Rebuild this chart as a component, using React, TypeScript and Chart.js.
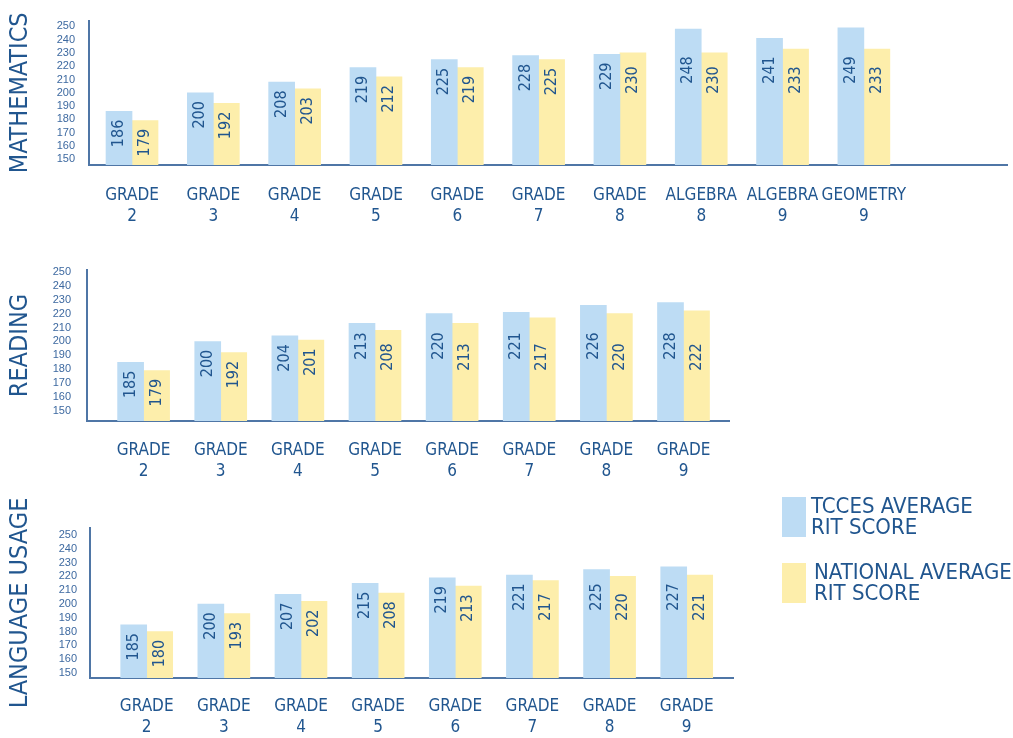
import React, { useEffect, useRef } from 'react';
import { Chart, registerables } from 'chart.js';

Chart.register(...registerables);

// ---------- data ----------
const mathCategories = [
  ['GRADE', '2'], ['GRADE', '3'], ['GRADE', '4'], ['GRADE', '5'], ['GRADE', '6'],
  ['GRADE', '7'], ['GRADE', '8'], ['ALGEBRA', '8'], ['ALGEBRA', '9'], ['GEOMETRY', '9'],
];
const mathTcces = [186, 200, 208, 219, 225, 228, 229, 248, 241, 249];
const mathNational = [179, 192, 203, 212, 219, 225, 230, 230, 233, 233];

const readingCategories = [
  ['GRADE', '2'], ['GRADE', '3'], ['GRADE', '4'], ['GRADE', '5'],
  ['GRADE', '6'], ['GRADE', '7'], ['GRADE', '8'], ['GRADE', '9'],
];
const readingTcces = [185, 200, 204, 213, 220, 221, 226, 228];
const readingNational = [179, 192, 201, 208, 213, 217, 220, 222];

const languageCategories = [
  ['GRADE', '2'], ['GRADE', '3'], ['GRADE', '4'], ['GRADE', '5'],
  ['GRADE', '6'], ['GRADE', '7'], ['GRADE', '8'], ['GRADE', '9'],
];
const languageTcces = [185, 200, 207, 215, 219, 221, 225, 227];
const languageNational = [180, 193, 202, 208, 213, 217, 220, 221];

const yTickValues = [150, 160, 170, 180, 190, 200, 210, 220, 230, 240, 250];
const seriesNames = [['TCCES AVERAGE', 'RIT SCORE'], ['NATIONAL AVERAGE', 'RIT SCORE']];

// ---------- styles ----------
const BLUE = '#bddcf4';
const YELLOW = '#fdeeab';
const TEXT = '#21568f';
const TICK = '#3d69a0';
const AXIS = '#4f76a6';
const NARROW = "'DejaVu Sans Condensed', 'Liberation Sans Narrow', sans-serif";
const REGULAR = "'Liberation Sans', Arial, sans-serif";

type Panel = {
  title: string;
  categories: string[][];
  tcces: number[];
  national: number[];
  top: number;
  height: number;
  padTop: number;
  padRight: number;
  yWidth: number;
  xHeight: number;
  xPad: number;
  xMin: number;
  xMax: number;
  yMin: number;
  yMax: number;
  yPad: number;
  labelOff: number[];
};

const panels: Panel[] = [
  {
    title: 'MATHEMATICS', categories: mathCategories, tcces: mathTcces, national: mathNational,
    top: 0, height: 235, padTop: 15, padRight: 6, yWidth: 89, xHeight: 70, xPad: 20,
    xMin: -0.529, xMax: 10.76, yMin: 145.65, yMax: 254.35, yPad: 14, labelOff: [95, 85],
  },
  {
    title: 'READING', categories: readingCategories, tcces: readingTcces, national: readingNational,
    top: 240, height: 250, padTop: 30, padRight: 284, yWidth: 87, xHeight: 69, xPad: 19,
    xMin: -0.734, xMax: 7.59, yMin: 142.8, yMax: 251.4, yPad: 16, labelOff: [75, 64],
  },
  {
    title: 'LANGUAGE USAGE', categories: languageCategories, tcces: languageTcces, national: languageNational,
    top: 490, height: 248, padTop: 38, padRight: 280, yWidth: 90, xHeight: 60, xPad: 18,
    xMin: -0.735, xMax: 7.6, yMin: 146.4, yMax: 255.1, yPad: 13, labelOff: [81, 71],
  },
];

function makeLabelPlugin(p: Panel) {
  return {
    id: 'barValueLabels',
    afterDatasetsDraw(chart: any) {
      const ctx: CanvasRenderingContext2D = chart.ctx;
      const series = [p.tcces, p.national];
      const bottom = chart.chartArea.bottom;
      ctx.save();
      ctx.fillStyle = TEXT;
      ctx.font = '16px "DejaVu Sans Condensed", sans-serif';
      ctx.textAlign = 'center';
      ctx.textBaseline = 'middle';
      for (let di = 0; di < series.length; di++) {
        const meta = chart.getDatasetMeta(di);
        const els = meta && meta.data ? meta.data : [];
        for (let i = 0; i < els.length; i++) {
          const props = els[i].getProps(['x', 'y', 'base'], true);
          const base = Math.min(Number(props.base), bottom);
          const cy = Math.max(props.y + 22, base - p.labelOff[di]);
          ctx.save();
          ctx.translate(props.x, cy);
          ctx.rotate(-Math.PI / 2);
          ctx.fillText(String(series[di][i]), 0, 0);
          ctx.restore();
        }
      }
      ctx.restore();
    },
  };
}

function PanelChart({ p }: { p: Panel }) {
  const ref = useRef<HTMLCanvasElement | null>(null);
  useEffect(() => {
    if (!ref.current) return;
    const chart = new Chart(ref.current, {
      type: 'bar',
      data: {
        datasets: [
          {
            label: seriesNames[0].join(' '),
            data: p.tcces.map((v, i) => ({ x: i, y: v })),
            backgroundColor: BLUE,
            barThickness: 26,
          },
          {
            label: seriesNames[1].join(' '),
            data: p.national.map((v, i) => ({ x: i, y: v })),
            backgroundColor: YELLOW,
            barThickness: 26,
          },
        ],
      },
      options: {
        animation: false,
        responsive: false,
        maintainAspectRatio: false,
        layout: { padding: { top: p.padTop, right: p.padRight, left: 0, bottom: 0 } },
        plugins: { legend: { display: false }, tooltip: { enabled: false } },
        scales: {
          x: {
            type: 'linear',
            offset: false,
            min: p.xMin,
            max: p.xMax,
            grid: { display: false, drawTicks: false },
            border: { display: true, color: AXIS, width: 2 },
            afterBuildTicks: (s: any) => {
              s.ticks = p.categories.map((_, i) => ({ value: i }));
            },
            afterFit: (s: any) => {
              s.height = p.xHeight;
            },
            ticks: {
              autoSkip: false,
              maxRotation: 0,
              minRotation: 0,
              padding: p.xPad,
              color: TEXT,
              font: { family: NARROW, size: 17, lineHeight: 1.25 },
              callback: (value: any) => p.categories[Math.round(Number(value))] ?? '',
            },
          },
          y: {
            type: 'linear',
            min: p.yMin,
            max: p.yMax,
            grid: { display: false, drawTicks: false },
            border: { display: true, color: AXIS, width: 2 },
            afterBuildTicks: (s: any) => {
              s.ticks = yTickValues.map((v) => ({ value: v }));
            },
            afterFit: (s: any) => {
              s.width = p.yWidth;
            },
            ticks: {
              autoSkip: false,
              padding: p.yPad,
              color: TICK,
              font: { family: REGULAR, size: 11 },
              callback: (value: any) => String(value),
            },
            title: {
              display: true,
              text: p.title,
              color: TEXT,
              font: { family: NARROW, size: 25, lineHeight: 1.2 },
              padding: { top: 5, bottom: 0 },
            },
          },
        },
      },
      plugins: [makeLabelPlugin(p)],
    } as any);
    return () => chart.destroy();
  }, [p]);
  return (
    <canvas
      ref={ref}
      width={1013}
      height={p.height}
      style={{ position: 'absolute', left: 0, top: p.top, width: 1013, height: p.height }}
    />
  );
}

function LegendItem({ color, lines, top, textLeft }: { color: string; lines: string[]; top: number; textLeft: number }) {
  return (
    <>
      <div style={{ position: 'absolute', left: 782, top, width: 24, height: 40, background: color }} />
      <div
        style={{
          position: 'absolute',
          left: textLeft,
          top: top - 2,
          fontFamily: NARROW,
          fontSize: 22,
          lineHeight: '21px',
          color: TEXT,
          whiteSpace: 'nowrap',
        }}
      >
        {lines.map((l, i) => (
          <div key={i}>{l}</div>
        ))}
      </div>
    </>
  );
}

export default function App() {
  return (
    <div style={{ position: 'absolute', left: 0, top: 0, width: 1013, height: 738, background: '#fff', overflow: 'hidden' }}>
      {panels.map((p) => (
        <PanelChart key={p.title} p={p} />
      ))}
      <LegendItem color={BLUE} lines={seriesNames[0]} top={497} textLeft={811} />
      <LegendItem color={YELLOW} lines={seriesNames[1]} top={563} textLeft={814} />
    </div>
  );
}
